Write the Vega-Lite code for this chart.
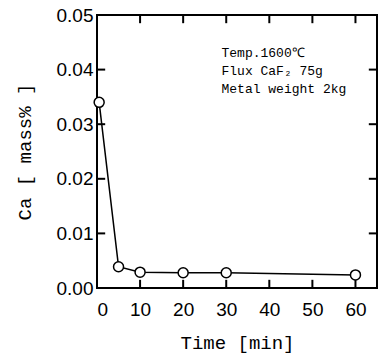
{
  "$schema": "https://vega.github.io/schema/vega-lite/v6.json",
  "autosize": "none",
  "width": 280,
  "height": 273,
  "padding": {"left": 97, "top": 15, "right": 12, "bottom": 68},
  "background": "white",
  "config": {
    "view": {"stroke": "black", "strokeWidth": 2},
    "axis": {
      "domainColor": "black", "domainWidth": 2, "tickColor": "black", "tickWidth": 2,
      "grid": false, "labelColor": "black", "titleColor": "black"
    }
  },
  "datasets": {
    "ca": [
      {"time": 0.5, "ca": 0.034},
      {"time": 5, "ca": 0.0039},
      {"time": 10, "ca": 0.0029},
      {"time": 20, "ca": 0.0028},
      {"time": 30, "ca": 0.0028},
      {"time": 60, "ca": 0.0024}
    ],
    "notes": [
      {"time": 28.9, "ca": 0.0430, "label": "Temp.1600℃"},
      {"time": 28.9, "ca": 0.0397, "label": "Flux CaF₂ 75g"},
      {"time": 28.9, "ca": 0.0364, "label": "Metal weight 2kg"}
    ],
    "xticks": [{"v": 10}, {"v": 20}, {"v": 30}, {"v": 40}, {"v": 50}, {"v": 60}],
    "yticks": [{"v": 0.01}, {"v": 0.02}, {"v": 0.03}, {"v": 0.04}]
  },
  "layer": [
    {
      "data": {"name": "xticks"},
      "mark": {"type": "rule", "color": "black", "strokeWidth": 2},
      "encoding": {
        "x": {"field": "v", "type": "quantitative"},
        "y": {"datum": 0, "type": "quantitative"},
        "y2": {"datum": 0.0015}
      }
    },
    {
      "data": {"name": "xticks"},
      "mark": {"type": "rule", "color": "black", "strokeWidth": 2},
      "encoding": {
        "x": {"field": "v", "type": "quantitative"},
        "y": {"datum": 0.05, "type": "quantitative"},
        "y2": {"datum": 0.0485}
      }
    },
    {
      "data": {"name": "yticks"},
      "mark": {"type": "rule", "color": "black", "strokeWidth": 2},
      "encoding": {
        "y": {"field": "v", "type": "quantitative"},
        "x": {"datum": 0, "type": "quantitative"},
        "x2": {"datum": 1.9}
      }
    },
    {
      "data": {"name": "yticks"},
      "mark": {"type": "rule", "color": "black", "strokeWidth": 2},
      "encoding": {
        "y": {"field": "v", "type": "quantitative"},
        "x": {"datum": 65, "type": "quantitative"},
        "x2": {"datum": 63.1}
      }
    },
    {
      "data": {"name": "ca"},
      "mark": {"type": "line", "color": "black", "strokeWidth": 1.5},
      "encoding": {
        "x": {"field": "time", "type": "quantitative", "scale": {"domain": [0, 65], "nice": false},
          "axis": {"orient": "bottom", "domain": false, "ticks": false, "title": "Time [min]", "values": [0, 10, 20, 30, 40, 50, 60], "labelPadding": 12,
            "labelFont": "Liberation Sans", "labelFontSize": 19, "labelFontWeight": "normal",
            "titleFont": "Liberation Mono", "titleFontSize": 19, "titleFontWeight": "normal", "titlePadding": 14}},
        "y": {"field": "ca", "type": "quantitative", "scale": {"domain": [0, 0.05], "nice": false},
          "axis": {"orient": "left", "domain": false, "ticks": false, "title": "Ca [ mass% ]", "values": [0, 0.01, 0.02, 0.03, 0.04, 0.05], "format": ".2f", "labelPadding": 4,
            "labelFont": "Liberation Sans", "labelFontSize": 19, "labelFontWeight": "normal",
            "titleFont": "Liberation Mono", "titleFontSize": 19, "titleFontWeight": "normal", "titlePadding": 22}}
      }
    },
    {
      "data": {"name": "ca"},
      "mark": {"type": "point", "shape": "circle", "filled": true, "fill": "white", "stroke": "black", "strokeWidth": 1.5, "size": 100, "opacity": 1},
      "encoding": {
        "x": {"field": "time", "type": "quantitative"},
        "y": {"field": "ca", "type": "quantitative"}
      }
    },
    {
      "data": {"name": "notes"},
      "mark": {"type": "text", "align": "left", "baseline": "middle", "font": "Liberation Mono", "fontSize": 13, "color": "black"},
      "encoding": {
        "x": {"field": "time", "type": "quantitative"},
        "y": {"field": "ca", "type": "quantitative"},
        "text": {"field": "label"}
      }
    }
  ]
}
